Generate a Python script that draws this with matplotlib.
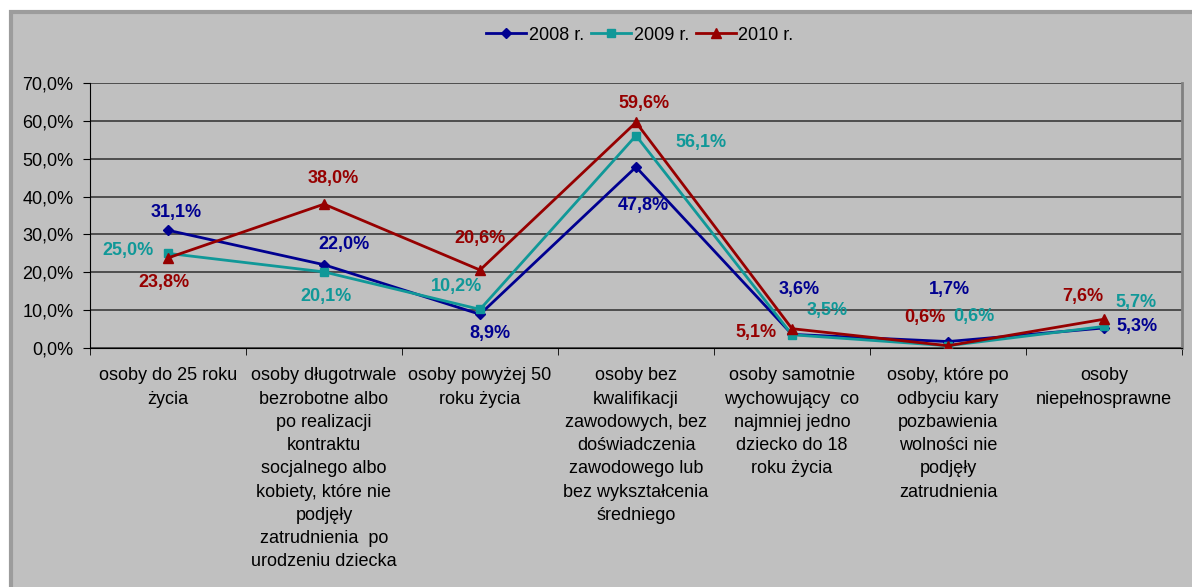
import numpy as np
import matplotlib.pyplot as plt
from matplotlib.patches import Rectangle

plt.rcParams['font.family'] = ['Liberation Sans', 'DejaVu Sans']

categories = [
    "osoby do 25 roku\nżycia",
    "osoby długotrwale\nbezrobotne albo\npo realizacji\nkontraktu\nsocjalnego albo\nkobiety, które nie\npodjęły\nzatrudnienia  po\nurodzeniu dziecka",
    "osoby powyżej 50\nroku życia",
    "osoby bez\nkwalifikacji\nzawodowych, bez\ndoświadczenia\nzawodowego lub\nbez wykształcenia\nśredniego",
    "osoby samotnie\nwychowujący  co\nnajmniej jedno\ndziecko do 18\nroku życia",
    "osoby, które po\nodbyciu kary\npozbawienia\nwolności nie\npodjęły\nzatrudnienia",
    "osoby\nniepełnosprawne",
]
years = ["2008 r.", "2009 r.", "2010 r."]
v2008 = [31.1, 22.0, 8.9, 47.8, 3.6, 1.7, 5.3]
v2009 = [25.0, 20.1, 10.2, 56.1, 3.5, 0.6, 5.7]
v2010 = [23.8, 38.0, 20.6, 59.6, 5.1, 0.6, 7.6]
y_ticks = [0, 10, 20, 30, 40, 50, 60, 70]
y_labels = ["0,0%", "10,0%", "20,0%", "30,0%", "40,0%", "50,0%", "60,0%", "70,0%"]

# label offsets in pixels (dx, dy up)
off2008 = [(8, 18), (20, 20), (10, -19), (7, -38), (7, 45), (1, 52), (33, 1)]
off2009 = [(-40, 3), (2, -25), (-23, 23), (65, -7), (35, 24), (26, 29), (32, 24)]
off2010 = [(-4, -25), (9, 26), (0, 32), (8, 19), (-36, -4), (-23, 28), (-21, 23)]

colors = ['#000090', '#109898', '#960000']
markers = ['D', 's', '^']
msizes = [5, 6, 7]

W, H = 1192, 587
fig = plt.figure(figsize=(W / 100, H / 100), dpi=100)
fig.patch.set_facecolor('white')
fig.patches.append(Rectangle((11 / W, -0.1), 1.1, (H - 12) / H + 0.1,
                             transform=fig.transFigure, facecolor='#C0C0C0',
                             edgecolor='#9C9C9C', linewidth=3, zorder=-10))

ax = fig.add_axes([90 / W, (H - 348) / H, (1182 - 90) / W, (348 - 83) / H])
ax.set_facecolor('#C0C0C0')

x = np.arange(len(categories))
series = [v2008, v2009, v2010]
offsets = [off2008, off2009, off2010]
for vals, name, c, m, ms, offs in zip(series, years, colors, markers, msizes, offsets):
    ax.plot(x, vals, color=c, marker=m, markersize=ms, linewidth=2, label=name, zorder=3)
    for xi, v, (dx, dy) in zip(x, vals, offs):
        ax.annotate(f"{v:.1f}%".replace('.', ','), (xi, v), xytext=(dx, dy),
                    textcoords='offset pixels', ha='center', va='center',
                    color=c, fontsize=13, fontweight='bold', zorder=4)

ax.set_xlim(-0.5, len(categories) - 0.5)
ax.set_ylim(0, 70)
ax.set_yticks(y_ticks)
ax.set_yticklabels(y_labels, fontsize=13)
ax.set_xticks(x)
ax.set_xticklabels(categories, fontsize=13, linespacing=1.48, va='top')
ax.set_xticks(np.arange(-0.5, len(categories)), minor=True)
ax.tick_params(axis='x', which='major', length=0, pad=14)
ax.tick_params(axis='x', which='minor', length=5, direction='out', color='black')
ax.tick_params(axis='y', length=5, direction='out', pad=7)

ax.yaxis.grid(True, color='#3A3A3A', linewidth=1.2, zorder=1)
ax.set_axisbelow(True)
ax.spines['top'].set_visible(False)
ax.spines['right'].set_color('#808080')
ax.spines['right'].set_linewidth(2)
ax.spines['left'].set_color('black')
ax.spines['bottom'].set_color('black')

fig.legend(loc='center', bbox_to_anchor=(640 / W, (H - 35) / H), ncol=3, frameon=False,
           fontsize=13, handlelength=2.2, handletextpad=0.15, columnspacing=0.4)

fig.savefig('out.png', dpi=100, facecolor=fig.get_facecolor())
